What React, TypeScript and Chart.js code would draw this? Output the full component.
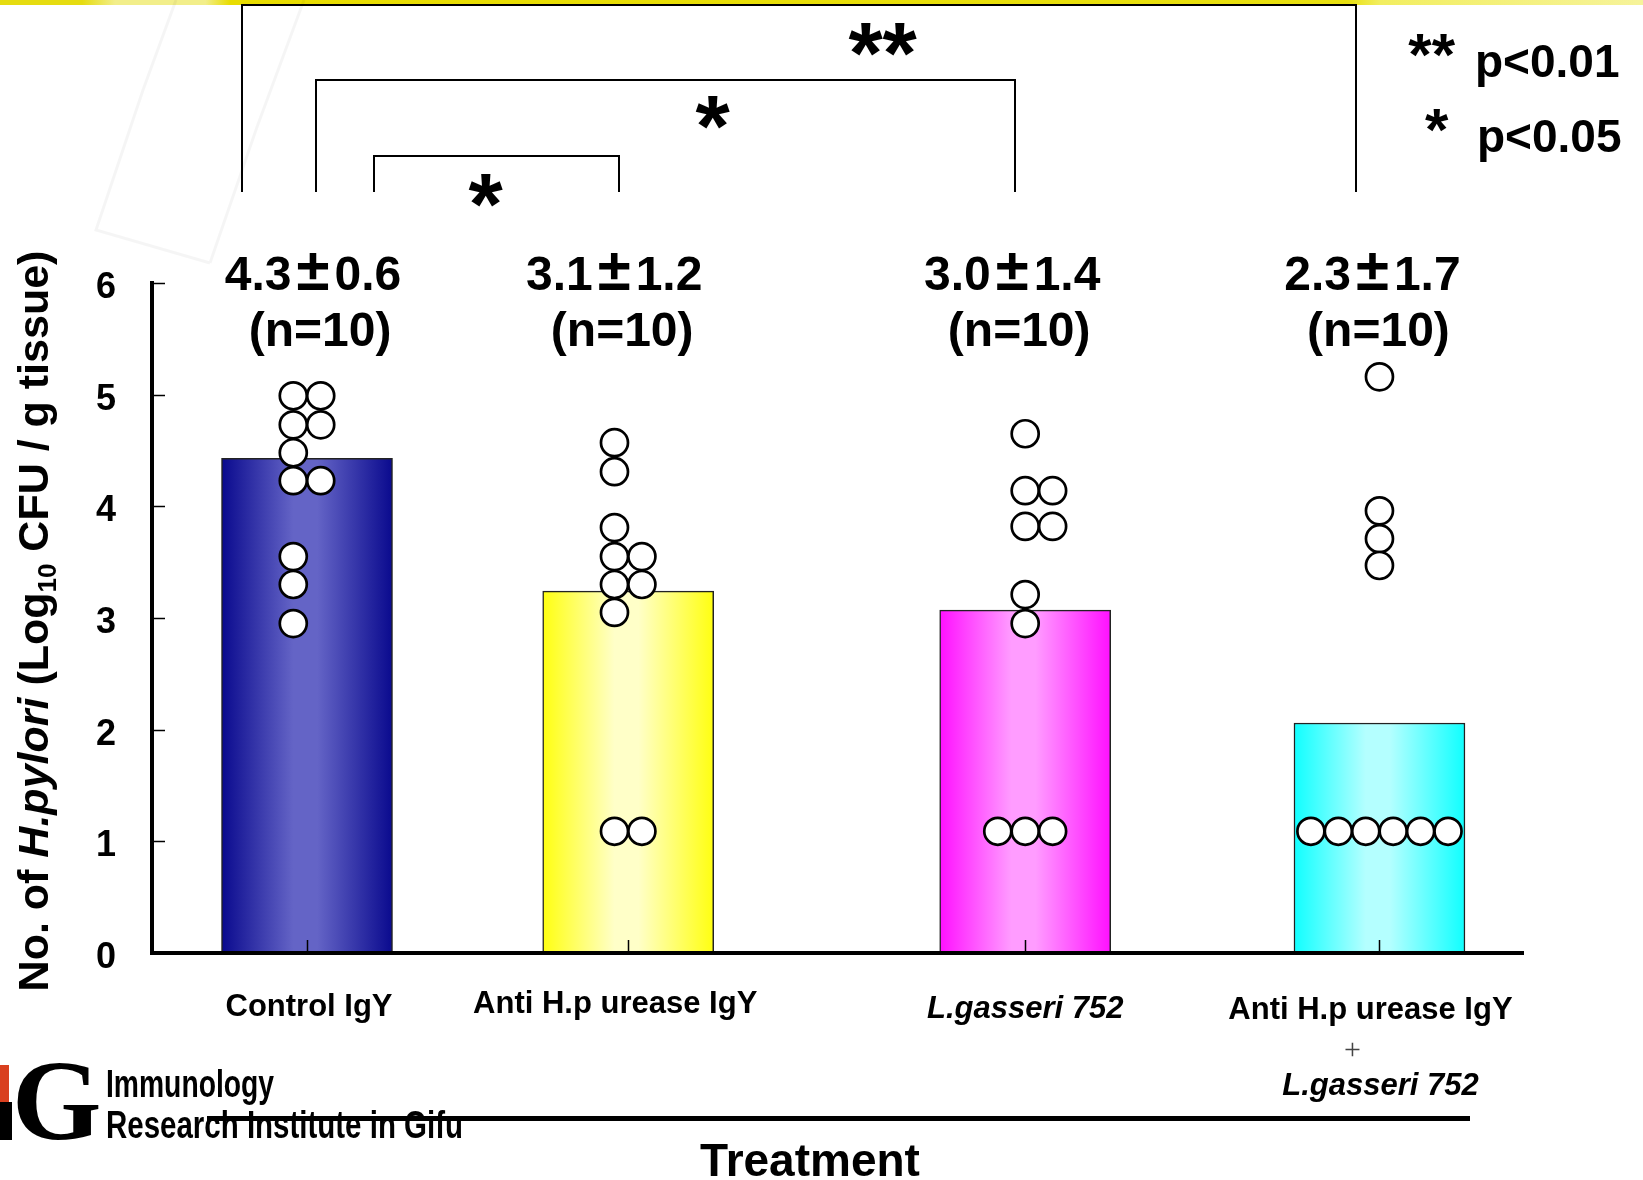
import React, { useEffect, useRef } from 'react';
import { Chart, registerables } from 'chart.js';

Chart.register(...registerables);

// ---------- data ----------
const categories = ['Control IgY', 'Anti H.p urease IgY', 'L.gasseri 752', 'Anti H.p urease IgY + L.gasseri 752'];
const categoryPositions = [1, 2, 3.236, 4.339];
const barMeans = [4.43, 3.24, 3.07, 2.06];
const statMeans = ['4.3', '3.1', '3.0', '2.3'];
const statSDs = ['0.6', '1.2', '1.4', '1.7'];
const nLabels = ['(n=10)', '(n=10)', '(n=10)', '(n=10)'];
const yTicks = [0, 1, 2, 3, 4, 5, 6];

const controlValues = [4.99, 4.99, 4.73, 4.73, 4.48, 4.23, 4.23, 3.55, 3.3, 2.95];
const controlSlots = [-1, 1, -1, 1, -1, -1, 1, -1, -1, -1];
const antiValues = [4.57, 4.31, 3.81, 3.55, 3.55, 3.3, 3.3, 3.05, 1.09, 1.09];
const antiSlots = [-1, -1, -1, -1, 1, -1, 1, -1, -1, 1];
const gasseriValues = [4.65, 4.14, 4.14, 3.82, 3.82, 3.21, 2.95, 1.09, 1.09, 1.09];
const gasseriSlots = [0, 0, 2, 0, 2, 0, 0, -2, 0, 2];
const comboValues = [5.16, 3.96, 3.71, 3.47, 1.09, 1.09, 1.09, 1.09, 1.09, 1.09];
const comboSlots = [0, 0, 0, 0, -5, -3, -1, 1, 3, 5];

const significance = [
  { label: '**', note: 'p<0.01' },
  { label: '*', note: 'p<0.05' },
];

// ---------- style ----------
const FONT = "'Liberation Sans', Arial, Helvetica, sans-serif";
const SERIF = "'Liberation Serif', 'Times New Roman', serif";
const SLOT_UNIT = 0.0427;
const BAR_PX = 171;
const edgeColors = ['#0a0a8e', '#ffff10', '#ff10ff', '#10ffff'];
const centerColors = ['#6464c6', '#ffffc8', '#ff9cff', '#b4ffff'];
const statDx = [6, -14, -13, -7];
const nDx = [13, -6, -6, -1];

const groups = [
  { values: controlValues, slots: controlSlots },
  { values: antiValues, slots: antiSlots },
  { values: gasseriValues, slots: gasseriSlots },
  { values: comboValues, slots: comboSlots },
];

function inkCenter(ctx: CanvasRenderingContext2D, text: string, font: string, cx: number, cy: number) {
  ctx.font = font;
  ctx.textAlign = 'left';
  ctx.textBaseline = 'alphabetic';
  const m = ctx.measureText(text);
  const w = m.actualBoundingBoxRight + m.actualBoundingBoxLeft;
  const h = m.actualBoundingBoxAscent + m.actualBoundingBoxDescent;
  const x = cx - w / 2 + m.actualBoundingBoxLeft;
  const y = cy - h / 2 + m.actualBoundingBoxAscent;
  ctx.fillText(text, x, y);
}

function fitText(ctx: CanvasRenderingContext2D, text: string, font: string, left: number, baseline: number, width: number) {
  ctx.save();
  ctx.font = font;
  ctx.textAlign = 'left';
  ctx.textBaseline = 'alphabetic';
  const w = ctx.measureText(text).width;
  ctx.translate(left, baseline);
  ctx.scale(width / w, 1);
  ctx.fillText(text, 0, 0);
  ctx.restore();
}

function drawPieces(ctx: CanvasRenderingContext2D, pieces: { text: string; font: string; gap?: number }[], cx: number, baseline: number) {
  ctx.textAlign = 'left';
  ctx.textBaseline = 'alphabetic';
  let total = 0;
  const ws = pieces.map((p) => {
    ctx.font = p.font;
    const w = ctx.measureText(p.text).width + 2 * (p.gap || 0);
    total += w;
    return w;
  });
  let x = cx - total / 2;
  pieces.forEach((p, i) => {
    ctx.font = p.font;
    ctx.fillText(p.text, x + (p.gap || 0), baseline);
    x += ws[i];
  });
}

export default function App() {
  const ref = useRef<HTMLCanvasElement>(null);

  useEffect(() => {
    document.body.style.margin = '0';
    document.body.style.overflow = 'hidden';
    const canvas = ref.current;
    if (!canvas) return;

    const points: { x: number; y: number }[] = [];
    groups.forEach((g, gi) => {
      g.values.forEach((v, i) => {
        points.push({ x: categoryPositions[gi] + g.slots[i] * SLOT_UNIT, y: v });
      });
    });

    const annotations = {
      id: 'annotations',
      beforeDraw(chart: any) {
        const ctx = chart.ctx as CanvasRenderingContext2D;
        ctx.save();
        ctx.fillStyle = '#ffffff';
        ctx.fillRect(0, 0, chart.width, chart.height);
        const band = ctx.createLinearGradient(0, 0, chart.width, 0);
        band.addColorStop(0, '#e6dc10');
        band.addColorStop(0.05, '#e6dc10');
        band.addColorStop(0.07, '#f2ee8a');
        band.addColorStop(0.125, '#f2ee8a');
        band.addColorStop(0.14, '#e8dc00');
        band.addColorStop(0.82, '#e8e010');
        band.addColorStop(0.84, '#f2ee60');
        band.addColorStop(1, '#f6f39a');
        ctx.fillStyle = band;
        ctx.fillRect(0, 0, chart.width, 5);
        ctx.strokeStyle = 'rgba(0,0,0,0.04)';
        ctx.lineWidth = 3;
        ctx.beginPath();
        ctx.moveTo(176, 0); ctx.lineTo(143, 90); ctx.lineTo(96, 230); ctx.lineTo(210, 263);
        ctx.moveTo(304, 0); ctx.lineTo(257, 127); ctx.lineTo(210, 263);
        ctx.stroke();
        ctx.restore();
      },
      afterDraw(chart: any) {
        const ctx = chart.ctx as CanvasRenderingContext2D;
        const xs = chart.scales.x;
        const ys = chart.scales.y;
        const area = chart.chartArea;
        const cx = categoryPositions.map((p) => xs.getPixelForValue(p));
        ctx.save();
        ctx.fillStyle = '#000';
        ctx.strokeStyle = '#000';

        // x axis line
        ctx.lineWidth = 4;
        ctx.beginPath();
        ctx.moveTo(area.left - 2, area.bottom);
        ctx.lineTo(area.right, area.bottom);
        ctx.stroke();

        // inward ticks
        ctx.lineWidth = 1.5;
        ctx.beginPath();
        yTicks.forEach((t) => {
          const y = Math.round(ys.getPixelForValue(t)) + 0.5;
          ctx.moveTo(area.left, y);
          ctx.lineTo(area.left + 13, y);
        });
        cx.forEach((x) => {
          const xx = Math.round(x) + 0.5;
          ctx.moveTo(xx, area.bottom);
          ctx.lineTo(xx, area.bottom - 13);
        });
        ctx.stroke();

        // stats above bars
        const statFont = `bold 48px ${FONT}`;
        statMeans.forEach((m, i) => {
          drawPieces(ctx, [
            { text: m, font: statFont },
            { text: '±', font: `bold 60px ${FONT}`, gap: 5 },
            { text: statSDs[i], font: statFont },
          ], cx[i] + statDx[i], 290);
        });
        ctx.textAlign = 'center';
        ctx.font = statFont;
        nLabels.forEach((s, i) => ctx.fillText(s, cx[i] + nDx[i], 346));

        // significance brackets
        const brackets = [
          { l: 242, r: 1356, top: 5, label: significance[0].label, lx: 883, ly: 39 },
          { l: 316, r: 1015, top: 80, label: significance[1].label, lx: 713, ly: 112 },
          { l: 374, r: 619, top: 156, label: significance[1].label, lx: 486, ly: 190 },
        ];
        ctx.lineWidth = 2;
        brackets.forEach((b) => {
          ctx.beginPath();
          ctx.moveTo(b.l, 192);
          ctx.lineTo(b.l, b.top);
          ctx.lineTo(b.r, b.top);
          ctx.lineTo(b.r, 192);
          ctx.stroke();
          inkCenter(ctx, b.label, `bold 88px ${FONT}`, b.lx, b.ly);
        });

        // significance legend
        inkCenter(ctx, significance[0].label, `bold 60px ${FONT}`, 1432, 45);
        inkCenter(ctx, significance[1].label, `bold 60px ${FONT}`, 1437, 120);
        ctx.font = `bold 46px ${FONT}`;
        ctx.textAlign = 'left';
        ctx.textBaseline = 'alphabetic';
        ctx.fillText(significance[0].note, 1475, 77);
        ctx.fillText(significance[1].note, 1477, 152);

        // x category labels
        ctx.textAlign = 'center';
        ctx.font = `bold 31px ${FONT}`;
        ctx.fillText(categories[0], cx[0] + 2, 1016);
        ctx.fillText(categories[1], cx[1] - 13, 1013);
        ctx.font = `italic bold 31px ${FONT}`;
        ctx.fillText(categories[2], cx[2], 1018);
        const combo = categories[3].split(' + ');
        ctx.font = `bold 31px ${FONT}`;
        ctx.fillText(combo[0], cx[3] - 9, 1019);
        ctx.font = `30px ${SERIF}`;
        ctx.fillStyle = '#444';
        ctx.fillText('+', cx[3] - 27, 1059);
        ctx.fillStyle = '#000';
        ctx.font = `italic bold 31px ${FONT}`;
        ctx.fillText(combo[1], cx[3] + 1, 1095);

        // x axis title
        ctx.font = `bold 46px ${FONT}`;
        ctx.fillText('Treatment', 810, 1176);

        // y axis title (rich text, rotated)
        const parts = [
          { text: 'No. of ', font: `bold 43px ${FONT}`, dy: 0 },
          { text: 'H.pylori', font: `italic bold 43px ${FONT}`, dy: 0 },
          { text: ' (Log', font: `bold 43px ${FONT}`, dy: 0 },
          { text: '10', font: `bold 26px ${FONT}`, dy: 8 },
          { text: ' CFU / g tissue)', font: `bold 43px ${FONT}`, dy: 0 },
        ];
        ctx.save();
        ctx.translate(48, 621);
        ctx.rotate(-Math.PI / 2);
        ctx.textAlign = 'left';
        ctx.textBaseline = 'alphabetic';
        let total = 0;
        const widths = parts.map((p) => {
          ctx.font = p.font;
          const w = ctx.measureText(p.text).width;
          total += w;
          return w;
        });
        let px = -total / 2;
        parts.forEach((p, i) => {
          ctx.font = p.font;
          ctx.fillText(p.text, px, p.dy);
          px += widths[i];
        });
        ctx.restore();

        // footer logo
        ctx.fillStyle = '#d9401f';
        ctx.fillRect(0, 1065, 9, 37);
        ctx.fillStyle = '#000';
        ctx.fillRect(0, 1102, 12, 38);
        ctx.font = `bold 115px ${SERIF}`;
        ctx.textAlign = 'left';
        ctx.fillText('G', 12, 1139);
        fitText(ctx, 'Immunology', `bold 38px ${FONT}`, 106, 1097, 168);
        fitText(ctx, 'Research Institute in Gifu', `bold 38px ${FONT}`, 106, 1138, 357);
        ctx.fillRect(207, 1116, 1263, 5);

        ctx.restore();
      },
    };

    const chart = new Chart(canvas, {
      type: 'bar',
      data: {
        datasets: [
          {
            type: 'bar',
            label: 'Mean',
            data: categoryPositions.map((x, i) => ({ x, y: barMeans[i] })),
            backgroundColor: (c: any) => {
              const chartObj = c.chart;
              const i = c.dataIndex ?? 0;
              if (!chartObj.chartArea || c.type !== 'data') return edgeColors[i];
              const px = chartObj.scales.x.getPixelForValue(categoryPositions[i]);
              const g = chartObj.ctx.createLinearGradient(px - BAR_PX / 2, 0, px + BAR_PX / 2, 0);
              g.addColorStop(0, edgeColors[i]);
              g.addColorStop(0.42, centerColors[i]);
              g.addColorStop(0.56, centerColors[i]);
              g.addColorStop(1, edgeColors[i]);
              return g;
            },
            borderColor: '#222',
            borderWidth: 1.5,
            borderSkipped: 'start',
            barThickness: BAR_PX,
            order: 2,
          } as any,
          {
            type: 'scatter',
            label: 'Individual',
            data: points,
            pointRadius: 13.5,
            pointHoverRadius: 13.5,
            pointBorderWidth: 2.7,
            pointBackgroundColor: '#ffffff',
            pointBorderColor: '#000000',
            clip: false,
            order: 1,
          } as any,
        ],
      },
      options: {
        responsive: false,
        animation: false,
        devicePixelRatio: 1,
        layout: { padding: { top: 283, right: 119, bottom: 227, left: 92 } },
        plugins: { legend: { display: false }, tooltip: { enabled: false }, title: { display: false } },
        scales: {
          x: {
            type: 'linear',
            min: 0.5174,
            max: 4.789,
            offset: false,
            display: false,
          },
          y: {
            type: 'linear',
            min: 0,
            max: 6,
            afterFit: (s: any) => {
              s.width = 60;
            },
            afterBuildTicks: (s: any) => {
              s.ticks = yTicks.map((v) => ({ value: v }));
            },
            ticks: {
              color: '#000',
              font: { family: FONT, size: 36, weight: 'bold' },
              padding: 36,
              labelOffset: 5,
            },
            grid: { display: false, drawTicks: false },
            border: { display: true, width: 4, color: '#000' },
          },
        },
      } as any,
      plugins: [annotations],
    });

    return () => chart.destroy();
  }, []);

  return (
    <div style={{ width: 1643, height: 1180 }}>
      <canvas ref={ref} width={1643} height={1180} style={{ display: 'block' }} />
    </div>
  );
}
